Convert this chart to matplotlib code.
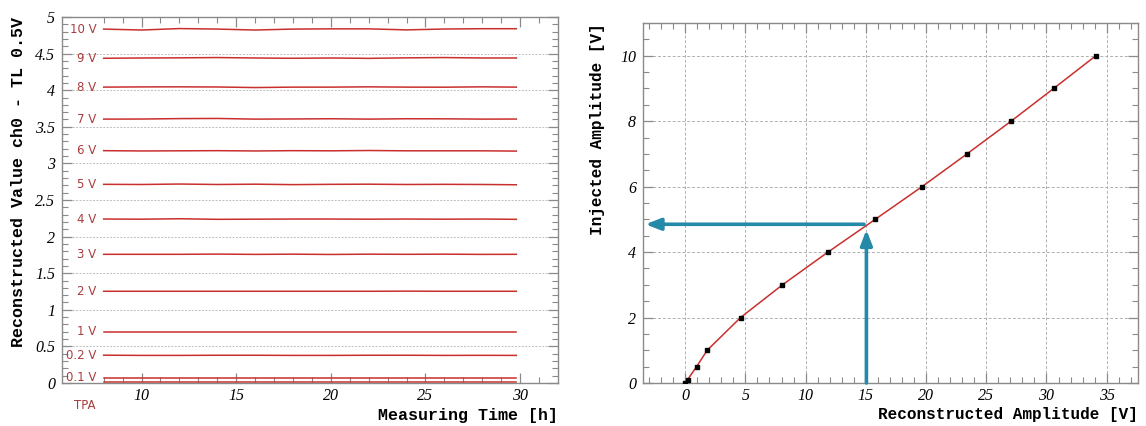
import matplotlib
matplotlib.use("Agg")
import matplotlib.pyplot as plt
from matplotlib.ticker import MultipleLocator, FixedLocator

# measuring times [h]
times = [8, 10, 12, 14, 16, 18, 20, 22, 24, 26, 28, 29.8]

# reconstructed value (ch0 - TL 0.5V) for each TPA voltage
v10 = [4.835, 4.822, 4.842, 4.835, 4.822, 4.835, 4.838, 4.838, 4.824, 4.836, 4.840, 4.840]
v9 = [4.436, 4.440, 4.442, 4.446, 4.440, 4.436, 4.440, 4.435, 4.442, 4.446, 4.440, 4.440]
v8 = [4.042, 4.045, 4.046, 4.044, 4.036, 4.042, 4.042, 4.046, 4.042, 4.041, 4.046, 4.042]
v7 = [3.605, 3.606, 3.612, 3.614, 3.605, 3.607, 3.610, 3.605, 3.610, 3.609, 3.605, 3.606]
v6 = [3.174, 3.170, 3.172, 3.174, 3.170, 3.174, 3.172, 3.176, 3.172, 3.172, 3.172, 3.168]
v5 = [2.714, 2.712, 2.718, 2.712, 2.716, 2.710, 2.714, 2.716, 2.712, 2.714, 2.712, 2.708]
v4 = [2.240, 2.238, 2.244, 2.236, 2.238, 2.240, 2.240, 2.238, 2.240, 2.238, 2.240, 2.236]
v3 = [1.758, 1.758, 1.758, 1.761, 1.757, 1.760, 1.756, 1.760, 1.758, 1.760, 1.757, 1.758]
v2 = [1.253, 1.253, 1.253, 1.253, 1.253, 1.253, 1.253, 1.253, 1.255, 1.253, 1.253, 1.253]
v1 = [0.697, 0.697, 0.697, 0.697, 0.697, 0.697, 0.697, 0.697, 0.697, 0.697, 0.697, 0.697]
v02 = [0.380, 0.377, 0.377, 0.379, 0.379, 0.377, 0.377, 0.379, 0.379, 0.377, 0.378, 0.377]
v01 = [0.073, 0.073, 0.073, 0.073, 0.073, 0.073, 0.073, 0.073, 0.073, 0.073, 0.073, 0.073]
v00 = [0.012, 0.012, 0.012, 0.012, 0.012, 0.012, 0.012, 0.012, 0.012, 0.012, 0.012, 0.012]

tpa_series = [v10, v9, v8, v7, v6, v5, v4, v3, v2, v1, v02, v01, v00]
tpa_labels = ["10 V", "9 V", "8 V", "7 V", "6 V", "5 V", "4 V", "3 V",
              "2 V", "1 V", "0.2 V", "0.1 V", ""]

# calibration curve
recon_amp = [0.0, 0.2, 0.95, 1.83, 4.6, 8.08, 11.86, 15.78, 19.67, 23.4, 27.06, 30.6, 34.1]
inj_amp = [0, 0.1, 0.5, 1, 2, 3, 4, 5, 6, 7, 8, 9, 10]

# example read-off on the calibration curve
read_recon = 15.05
read_inj = 4.85

LINE_RED = "#c8302e"
LABEL_RED = "#a83c3c"
TEAL = "#2589a8"
FRAME = "#8a8a8a"

tick_font = {"family": "Liberation Serif", "style": "italic", "size": 11.5}
label_font = {"family": "Liberation Mono", "weight": "bold"}


def style_axes(ax):
    for sp in ax.spines.values():
        sp.set_color(FRAME)
        sp.set_linewidth(1.0)
    ax.tick_params(which="both", direction="in", colors=FRAME,
                   top=True, right=True, labelcolor="black")
    ax.tick_params(which="major", length=7, width=0.9)
    ax.tick_params(which="minor", length=4, width=0.8)
    ax.tick_params(axis="x", pad=3.5)
    ax.tick_params(axis="y", pad=5)
    for lab in ax.get_xticklabels() + ax.get_yticklabels():
        lab.set_fontfamily(tick_font["family"])
        lab.set_fontstyle(tick_font["style"])
        lab.set_fontsize(tick_font["size"])


fig = plt.figure(figsize=(11.46, 4.26), dpi=100)

# left: stability over time
ax1 = fig.add_axes([62 / 1146, 1 - 383 / 426, 496 / 1146, 366 / 426])
for vals, lab in zip(tpa_series, tpa_labels):
    ax1.plot(times, vals, color=LINE_RED, lw=1.1)
    if lab:
        ax1.text(7.62, vals[0], lab, ha="right", va="center",
                 color=LABEL_RED, fontsize=8.5, family="DejaVu Sans")
ax1.text(7.0, -0.31, "TPA", ha="center", va="center", color=LABEL_RED,
         fontsize=8.5, family="DejaVu Sans", clip_on=False)

ax1.set_xlim(5.8, 32.0)
ax1.set_ylim(0, 5)
ax1.xaxis.set_major_locator(FixedLocator([10, 15, 20, 25, 30]))
ax1.xaxis.set_minor_locator(FixedLocator([8, 9, 11, 12, 13, 14, 16, 17, 18, 19,
                                          21, 22, 23, 24, 26, 27, 28, 29, 31]))
ax1.yaxis.set_minor_locator(MultipleLocator(0.1))
ax1.set_yticks([0, 0.5, 1, 1.5, 2, 2.5, 3, 3.5, 4, 4.5, 5])
ax1.set_yticklabels(["0", "0.5", "1", "1.5", "2", "2.5", "3", "3.5", "4", "4.5", "5"])
ax1.grid(axis="y", which="major", color="#bdbdbd", ls=(0, (2, 1.5)), lw=0.7)
style_axes(ax1)

ax1.set_xlabel("Measuring Time [h]", fontsize=12, loc="right", **label_font)
ax1.xaxis.set_label_coords(1.0, -0.068)
ax1.set_ylabel("Reconstructed Value ch0 - TL 0.5V", fontsize=12, loc="top", **label_font)
ax1.yaxis.set_label_coords(-0.073, 1.0)

# right: calibration curve
ax2 = fig.add_axes([643 / 1146, 1 - 383 / 426, 495 / 1146, 360 / 426])
ax2.plot(recon_amp, inj_amp, color=LINE_RED, lw=1.1, marker="s", ms=3.4,
         mfc="black", mec="black", zorder=3)

ax2.annotate("", xy=(read_recon, read_inj - 0.17), xytext=(read_recon, 0),
             arrowprops=dict(arrowstyle="-|>,head_length=0.9,head_width=0.35",
                             color=TEAL, lw=2.6, shrinkA=0, shrinkB=0))
ax2.annotate("", xy=(-3.3, read_inj), xytext=(read_recon - 0.2, read_inj),
             arrowprops=dict(arrowstyle="-|>,head_length=0.9,head_width=0.35",
                             color=TEAL, lw=2.6, shrinkA=0, shrinkB=0))

ax2.set_xlim(-3.5, 37.6)
ax2.set_ylim(0, 11)
ax2.xaxis.set_major_locator(MultipleLocator(5))
ax2.xaxis.set_minor_locator(MultipleLocator(1))
ax2.yaxis.set_major_locator(MultipleLocator(2))
ax2.yaxis.set_minor_locator(MultipleLocator(0.5))
ax2.grid(which="major", color="#b0b0b0", ls=(0, (3, 2)), lw=0.7)
style_axes(ax2)

ax2.set_xlabel("Reconstructed Amplitude [V]", fontsize=11.5, loc="right", **label_font)
ax2.xaxis.set_label_coords(1.0, -0.068)
ax2.set_ylabel("Injected Amplitude [V]", fontsize=11.5, loc="top", **label_font)
ax2.yaxis.set_label_coords(-0.077, 1.0)

fig.savefig("out.png", dpi=100)
